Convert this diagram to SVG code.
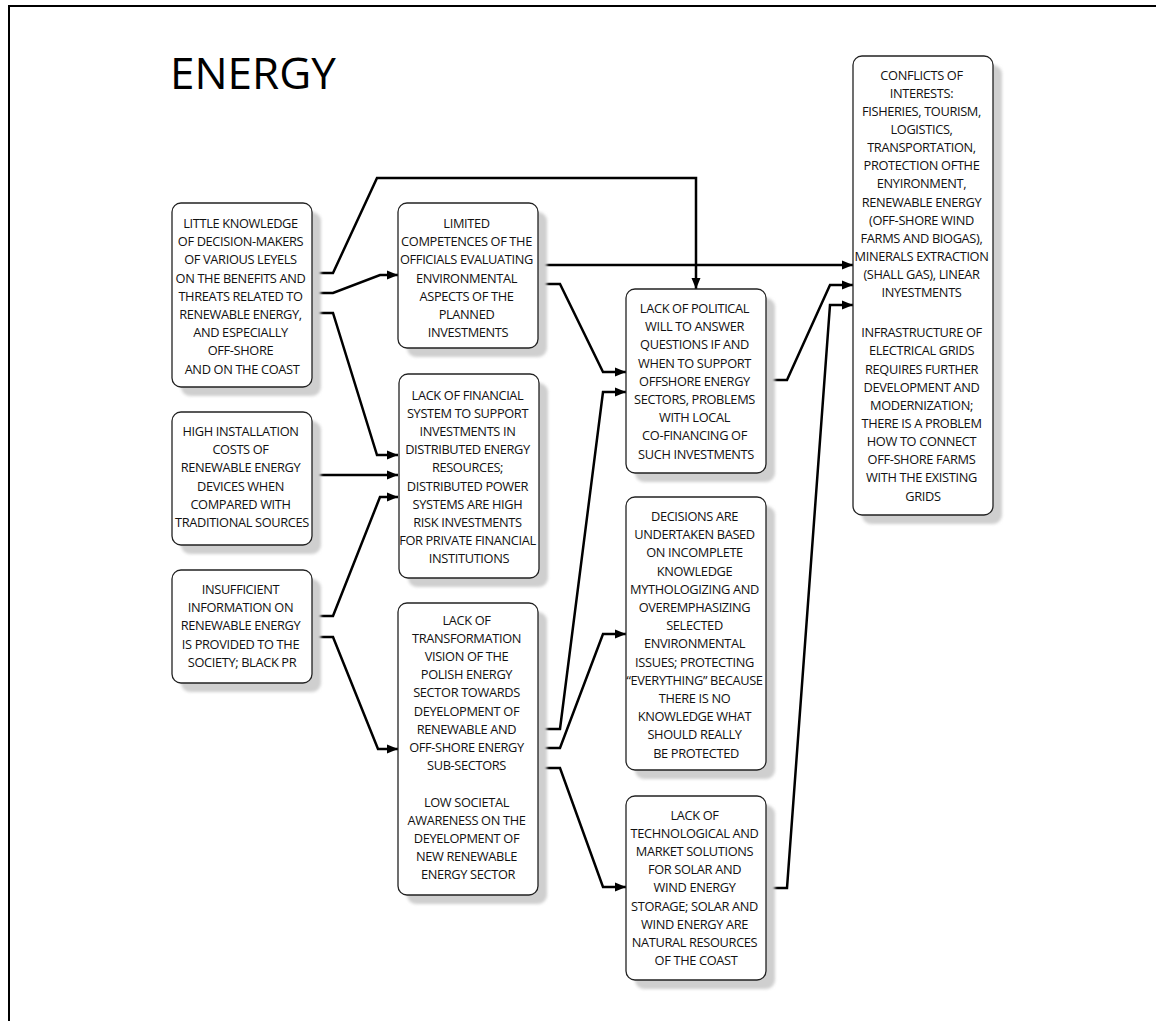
<svg xmlns="http://www.w3.org/2000/svg" width="1156" height="1021" viewBox="0 0 1156 1021">
  <style>
    .frame { fill: none; stroke: #000; stroke-width: 2; }
    .title { font-family: "Open Sans", "Noto Sans", sans-serif; font-size: 44px; fill: #000; }
    .box { fill: #fff; stroke: #222; stroke-width: 1.3; }
    .shadow { fill: #cfcfcf; filter: url(#soft); }
    .label { font-family: "Open Sans", "Noto Sans", sans-serif; font-size: 12.8px; fill: #111; text-anchor: middle; letter-spacing: -0.35px; }
    .wire { fill: none; stroke: #000; stroke-width: 2.5; stroke-linejoin: miter; marker-end: url(#head); }
  </style>
  <defs>
    <filter id="soft" x="-10%" y="-10%" width="120%" height="120%">
      <feGaussianBlur stdDeviation="1.5"/>
    </filter>
    <marker id="head" markerUnits="userSpaceOnUse" markerWidth="12" markerHeight="10" refX="11" refY="5" orient="auto">
      <path d="M0,0.5 L11,5 L0,9.5 Z" fill="#000"/>
    </marker>
  </defs>

  <rect width="1156" height="1021" fill="#fff"/>
  <path class="frame" d="M9,1021 V6 H1156"/>
  <text class="title" x="170" y="89">ENERGY</text>

  <!-- connectors -->
  <g id="connectors">
    <path class="wire" d="M312,273 H333 L377,178 H696 V289"/>
    <path class="wire" d="M312,293 H333 L380,275 H398"/>
    <path class="wire" d="M312,313 H333 L377,455 H398"/>
    <path class="wire" d="M312,475 H398"/>
    <path class="wire" d="M312,616 H333 L380,497 H398"/>
    <path class="wire" d="M312,637 H333 L378,749 H398"/>
    <path class="wire" d="M538,265 H853"/>
    <path class="wire" d="M538,284 H560 L603,372 H626"/>
    <path class="wire" d="M766,380 H787 L830,285 H853"/>
    <path class="wire" d="M538,729 H560 L603,392 H626"/>
    <path class="wire" d="M538,748 H560 L603,634 H626"/>
    <path class="wire" d="M538,768 H560 L603,887 H626"/>
    <path class="wire" d="M766,888 H787 L830,305 H853"/>
  </g>

  <g id="little-knowledge">
    <rect class="shadow" x="181" y="212" width="140" height="184" rx="9"/>
    <rect class="box" x="172" y="203" width="140" height="184" rx="9"/>
    <text class="label" y="228">
      <tspan x="242">LITTLE KNOWLEDGE</tspan>
      <tspan x="242" dy="18.2">OF DECISION-MAKERS</tspan>
      <tspan x="242" dy="18.2">OF VARIOUS LEYELS</tspan>
      <tspan x="242" dy="18.2">ON THE BENEFITS AND</tspan>
      <tspan x="242" dy="18.2">THREATS RELATED TO</tspan>
      <tspan x="242" dy="18.2">RENEWABLE ENERGY,</tspan>
      <tspan x="242" dy="18.2">AND ESPECIALLY</tspan>
      <tspan x="242" dy="18.2">OFF-SHORE</tspan>
      <tspan x="242" dy="18.2">AND ON THE COAST</tspan>
    </text>
  </g>

  <g id="limited-competences">
    <rect class="shadow" x="407" y="212" width="140" height="145" rx="9"/>
    <rect class="box" x="398" y="203" width="140" height="145" rx="9"/>
    <text class="label" y="228">
      <tspan x="468">LIMITED</tspan>
      <tspan x="468" dy="18.2">COMPETENCES OF THE</tspan>
      <tspan x="468" dy="18.2">OFFICIALS EVALUATING</tspan>
      <tspan x="468" dy="18.2">ENVIRONMENTAL</tspan>
      <tspan x="468" dy="18.2">ASPECTS OF THE</tspan>
      <tspan x="468" dy="18.2">PLANNED</tspan>
      <tspan x="468" dy="18.2">INVESTMENTS</tspan>
    </text>
  </g>

  <g id="installation-costs">
    <rect class="shadow" x="181" y="421" width="140" height="133" rx="9"/>
    <rect class="box" x="172" y="412" width="140" height="133" rx="9"/>
    <text class="label" y="436">
      <tspan x="242">HIGH INSTALLATION</tspan>
      <tspan x="242" dy="18.2">COSTS OF</tspan>
      <tspan x="242" dy="18.2">RENEWABLE ENERGY</tspan>
      <tspan x="242" dy="18.2">DEVICES WHEN</tspan>
      <tspan x="242" dy="18.2">COMPARED WITH</tspan>
      <tspan x="242" dy="18.2">TRADITIONAL SOURCES</tspan>
    </text>
  </g>

  <g id="financial-system">
    <rect class="shadow" x="408" y="383" width="140" height="204" rx="9"/>
    <rect class="box" x="399" y="374" width="140" height="204" rx="9"/>
    <text class="label" y="399.5">
      <tspan x="469">LACK OF FINANCIAL</tspan>
      <tspan x="469" dy="18.2">SYSTEM TO SUPPORT</tspan>
      <tspan x="469" dy="18.2">INVESTMENTS IN</tspan>
      <tspan x="469" dy="18.2">DISTRIBUTED ENERGY</tspan>
      <tspan x="469" dy="18.2">RESOURCES;</tspan>
      <tspan x="469" dy="18.2">DISTRIBUTED POWER</tspan>
      <tspan x="469" dy="18.2">SYSTEMS ARE HIGH</tspan>
      <tspan x="469" dy="18.2">RISK INVESTMENTS</tspan>
      <tspan x="469" dy="18.2">FOR PRIVATE FINANCIAL</tspan>
      <tspan x="469" dy="18.2">INSTITUTIONS</tspan>
    </text>
  </g>

  <g id="insufficient-information">
    <rect class="shadow" x="181" y="579" width="140" height="113" rx="9"/>
    <rect class="box" x="172" y="570" width="140" height="113" rx="9"/>
    <text class="label" y="594">
      <tspan x="242">INSUFFICIENT</tspan>
      <tspan x="242" dy="18.2">INFORMATION ON</tspan>
      <tspan x="242" dy="18.2">RENEWABLE ENERGY</tspan>
      <tspan x="242" dy="18.2">IS PROVIDED TO THE</tspan>
      <tspan x="242" dy="18.2">SOCIETY; BLACK PR</tspan>
    </text>
  </g>

  <g id="transformation-vision">
    <rect class="shadow" x="407" y="612" width="140" height="292" rx="9"/>
    <rect class="box" x="398" y="603" width="140" height="292" rx="9"/>
    <text class="label" y="624.5">
      <tspan x="468">LACK OF</tspan>
      <tspan x="468" dy="18.2">TRANSFORMATION</tspan>
      <tspan x="468" dy="18.2">VISION OF THE</tspan>
      <tspan x="468" dy="18.2">POLISH ENERGY</tspan>
      <tspan x="468" dy="18.2">SECTOR TOWARDS</tspan>
      <tspan x="468" dy="18.2">DEYELOPMENT OF</tspan>
      <tspan x="468" dy="18.2">RENEWABLE AND</tspan>
      <tspan x="468" dy="18.2">OFF-SHORE ENERGY</tspan>
      <tspan x="468" dy="18.2">SUB-SECTORS</tspan>
      <tspan x="468" dy="36.4">LOW SOCIETAL</tspan>
      <tspan x="468" dy="18.2">AWARENESS ON THE</tspan>
      <tspan x="468" dy="18.2">DEYELOPMENT OF</tspan>
      <tspan x="468" dy="18.2">NEW RENEWABLE</tspan>
      <tspan x="468" dy="18.2">ENERGY SECTOR</tspan>
    </text>
  </g>

  <g id="political-will">
    <rect class="shadow" x="635" y="298" width="140" height="184" rx="9"/>
    <rect class="box" x="626" y="289" width="140" height="184" rx="9"/>
    <text class="label" y="313">
      <tspan x="696">LACK OF POLITICAL</tspan>
      <tspan x="696" dy="18.2">WILL TO ANSWER</tspan>
      <tspan x="696" dy="18.2">QUESTIONS IF AND</tspan>
      <tspan x="696" dy="18.2">WHEN TO SUPPORT</tspan>
      <tspan x="696" dy="18.2">OFFSHORE ENERGY</tspan>
      <tspan x="696" dy="18.2">SECTORS, PROBLEMS</tspan>
      <tspan x="696" dy="18.2">WITH LOCAL</tspan>
      <tspan x="696" dy="18.2">CO-FINANCING OF</tspan>
      <tspan x="696" dy="18.2">SUCH INVESTMENTS</tspan>
    </text>
  </g>

  <g id="incomplete-knowledge">
    <rect class="shadow" x="635" y="506" width="140" height="273" rx="9"/>
    <rect class="box" x="626" y="497" width="140" height="273" rx="9"/>
    <text class="label" y="521">
      <tspan x="696">DECISIONS ARE</tspan>
      <tspan x="696" dy="18.2">UNDERTAKEN BASED</tspan>
      <tspan x="696" dy="18.2">ON INCOMPLETE</tspan>
      <tspan x="696" dy="18.2">KNOWLEDGE</tspan>
      <tspan x="696" dy="18.2">MYTHOLOGIZING AND</tspan>
      <tspan x="696" dy="18.2">OVEREMPHASIZING</tspan>
      <tspan x="696" dy="18.2">SELECTED</tspan>
      <tspan x="696" dy="18.2">ENVIRONMENTAL</tspan>
      <tspan x="696" dy="18.2">ISSUES; PROTECTING</tspan>
      <tspan x="696" dy="18.2">“EVERYTHING” BECAUSE</tspan>
      <tspan x="696" dy="18.2">THERE IS NO</tspan>
      <tspan x="696" dy="18.2">KNOWLEDGE WHAT</tspan>
      <tspan x="696" dy="18.2">SHOULD REALLY</tspan>
      <tspan x="696" dy="18.2">BE PROTECTED</tspan>
    </text>
  </g>

  <g id="storage-solutions">
    <rect class="shadow" x="635" y="805" width="140" height="184" rx="9"/>
    <rect class="box" x="626" y="796" width="140" height="184" rx="9"/>
    <text class="label" y="819.5">
      <tspan x="696">LACK OF</tspan>
      <tspan x="696" dy="18.2">TECHNOLOGICAL AND</tspan>
      <tspan x="696" dy="18.2">MARKET SOLUTIONS</tspan>
      <tspan x="696" dy="18.2">FOR SOLAR AND</tspan>
      <tspan x="696" dy="18.2">WIND ENERGY</tspan>
      <tspan x="696" dy="18.2">STORAGE; SOLAR AND</tspan>
      <tspan x="696" dy="18.2">WIND ENERGY ARE</tspan>
      <tspan x="696" dy="18.2">NATURAL RESOURCES</tspan>
      <tspan x="696" dy="18.2">OF THE COAST</tspan>
    </text>
  </g>

  <g id="conflicts-of-interests">
    <rect class="shadow" x="862" y="65" width="140" height="459" rx="9"/>
    <rect class="box" x="853" y="56" width="140" height="459" rx="9"/>
    <text class="label" y="79.5">
      <tspan x="923">CONFLICTS OF</tspan>
      <tspan x="923" dy="18.15">INTERESTS:</tspan>
      <tspan x="923" dy="18.15">FISHERIES, TOURISM,</tspan>
      <tspan x="923" dy="18.15">LOGISTICS,</tspan>
      <tspan x="923" dy="18.15">TRANSPORTATION,</tspan>
      <tspan x="923" dy="18.15">PROTECTION OFTHE</tspan>
      <tspan x="923" dy="18.15">ENYIRONMENT,</tspan>
      <tspan x="923" dy="18.15">RENEWABLE ENERGY</tspan>
      <tspan x="923" dy="18.15">(OFF-SHORE WIND</tspan>
      <tspan x="923" dy="18.15">FARMS AND BIOGAS),</tspan>
      <tspan x="923" dy="18.15">MINERALS EXTRACTION</tspan>
      <tspan x="923" dy="18.15">(SHALL GAS), LINEAR</tspan>
      <tspan x="923" dy="18.15">INYESTMENTS</tspan>
      <tspan x="923" dy="40">INFRASTRUCTURE OF</tspan>
      <tspan x="923" dy="18.15">ELECTRICAL GRIDS</tspan>
      <tspan x="923" dy="18.15">REQUIRES FURTHER</tspan>
      <tspan x="923" dy="18.15">DEVELOPMENT AND</tspan>
      <tspan x="923" dy="18.15">MODERNIZATION;</tspan>
      <tspan x="923" dy="18.15">THERE IS A PROBLEM</tspan>
      <tspan x="923" dy="18.15">HOW TO CONNECT</tspan>
      <tspan x="923" dy="18.15">OFF-SHORE FARMS</tspan>
      <tspan x="923" dy="18.15">WITH THE EXISTING</tspan>
      <tspan x="923" dy="18.15">GRIDS</tspan>
    </text>
  </g>
</svg>
